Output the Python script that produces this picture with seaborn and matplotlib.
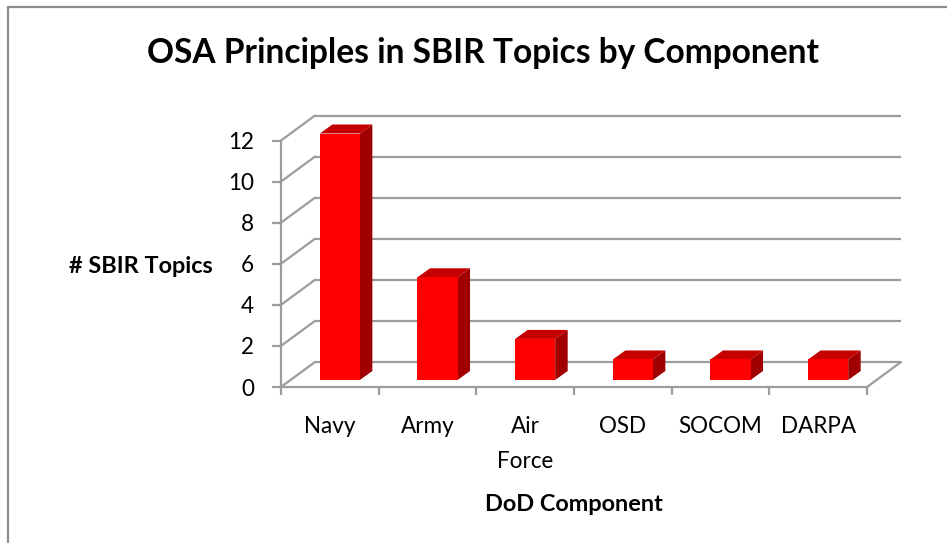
import matplotlib
matplotlib.use("Agg")
import matplotlib.pyplot as plt
import numpy as np
import pandas as pd
import seaborn as sns
from matplotlib.patches import Polygon

# ---- data ----
components = ["Navy", "Army", "Air\nForce", "OSD", "SOCOM", "DARPA"]
topics = [12, 5, 2, 1, 1, 1]
y_ticks = [0, 2, 4, 6, 8, 10, 12]
title_text = "OSA Principles in SBIR Topics by Component"
x_label = "DoD Component"
y_label = "# SBIR Topics"

# ---- style ----
W, H, DPI = 947, 543, 100
GRID = "#9c9c9c"
FRONT = "#ff0000"
SIDE = "#a00000"
TOP = "#c40000"
LW = 1.6

sns.set_theme(style="white")
plt.rcParams["font.family"] = ["Lato", "DejaVu Sans"]

fig = plt.figure(figsize=(W / DPI, H / DPI), dpi=DPI)
fig.patch.set_facecolor("white")


def px_box(l, t, r, b):
    return [l / W, 1 - b / H, (r - l) / W, (b - t) / H]


renderer = fig.canvas.get_renderer()


def fit(text, target, weight="normal"):
    t = fig.text(0, 0, text, fontsize=20, fontweight=weight)
    w = t.get_window_extent(renderer=renderer).width
    t.remove()
    return 20 * target / w


ax = fig.add_axes(px_box(281, 140.5, 867, 387))
ax.set_facecolor("none")

df = pd.DataFrame({"component": components, "topics": topics})
sns.barplot(data=df, x="component", y="topics", color=FRONT, saturation=1,
            width=0.41, ax=ax, zorder=3, linewidth=0)

n = len(components)
ax.set_xlim(-0.5, n - 0.5)
ax.set_ylim(0, max(y_ticks))
ax.set_xlabel("")
ax.set_ylabel("")


def px2data(dx, dy):
    inv = ax.transData.inverted()
    a = inv.transform((0, 0))
    b = inv.transform((dx, dy))
    return b - a


Dx, Dy = px2data(34, 25)          # full depth of the floor / wall
fx, fy = px2data(10, 7)           # bar front-face offset into depth
bx, by = px2data(12.5, 9)         # bar thickness

# back wall gridlines and side-wall diagonals
for v in y_ticks:
    ax.plot([-0.5 + Dx, n - 0.5 + Dx], [v + Dy, v + Dy], color=GRID, lw=LW,
            clip_on=False, zorder=1, solid_capstyle="butt")
    ax.plot([-0.5, -0.5 + Dx], [v, v + Dy], color=GRID, lw=LW,
            clip_on=False, zorder=1)
# floor right edge
ax.plot([n - 0.5, n - 0.5 + Dx], [0, Dy], color=GRID, lw=LW, clip_on=False, zorder=1)

# 3D bars
for p in list(ax.patches):
    x0 = p.get_x() + fx
    w = p.get_width()
    h = p.get_height()
    p.set_x(x0)
    p.set_y(fy)
    p.set_clip_on(False)
    x1 = x0 + w
    yb, yt = fy, fy + h
    side = Polygon([(x1, yb), (x1 + bx, yb + by), (x1 + bx, yt + by), (x1, yt)],
                   closed=True, facecolor=SIDE, edgecolor="none", zorder=2.9, clip_on=False)
    top = Polygon([(x0, yt), (x1, yt), (x1 + bx, yt + by), (x0 + bx, yt + by)],
                  closed=True, facecolor=TOP, edgecolor="none", zorder=2.9, clip_on=False)
    ax.add_patch(side)
    ax.add_patch(top)

# spines
for s in ["top", "right"]:
    ax.spines[s].set_visible(False)
for s in ["left", "bottom"]:
    ax.spines[s].set_color(GRID)
    ax.spines[s].set_linewidth(LW)
    ax.spines[s].set_zorder(1)

tick_fs = fit("SOCOM", 84)
ax.set_yticks(y_ticks)
ax.set_yticklabels([str(v) for v in y_ticks])
ax.tick_params(axis="y", left=True, direction="out", length=6.5, width=LW,
               color=GRID, pad=13, labelsize=tick_fs, labelcolor="black")
ax.set_xticks(range(n))
ax.set_xticklabels(components)
ax.set_xticks(np.arange(n + 1) - 0.5, minor=True)
ax.tick_params(axis="x", which="major", bottom=False, length=0, pad=21,
               labelsize=tick_fs, labelcolor="black")
ax.tick_params(axis="x", which="minor", bottom=True, direction="out", length=5.5,
               width=LW, color=GRID)
for lab in ax.get_xticklabels():
    lab.set_linespacing(1.8)

# titles / axis labels
title_fs = fit(title_text, 674, "bold")
fig.text(483 / W, 1 - 63 / H, title_text, ha="center", va="baseline",
         fontsize=title_fs, fontweight="bold", color="black")
lab_fs = fit(y_label, 144, "bold")
fig.text(141 / W, 1 - 273 / H, y_label, ha="center", va="baseline",
         fontsize=lab_fs, fontweight="bold", color="black")
fig.text(574 / W, 1 - 511 / H, x_label, ha="center", va="baseline",
         fontsize=lab_fs, fontweight="bold", color="black")

# chart frame (left and top edges visible)
fig.add_artist(plt.Line2D([8 / W, 8 / W], [0, 1 - 7 / H], transform=fig.transFigure,
                          color="#8c8c8c", lw=LW))
fig.add_artist(plt.Line2D([8 / W, 1], [1 - 7 / H, 1 - 7 / H], transform=fig.transFigure,
                          color="#8c8c8c", lw=LW))

fig.savefig("out.png", dpi=DPI, facecolor="white")
